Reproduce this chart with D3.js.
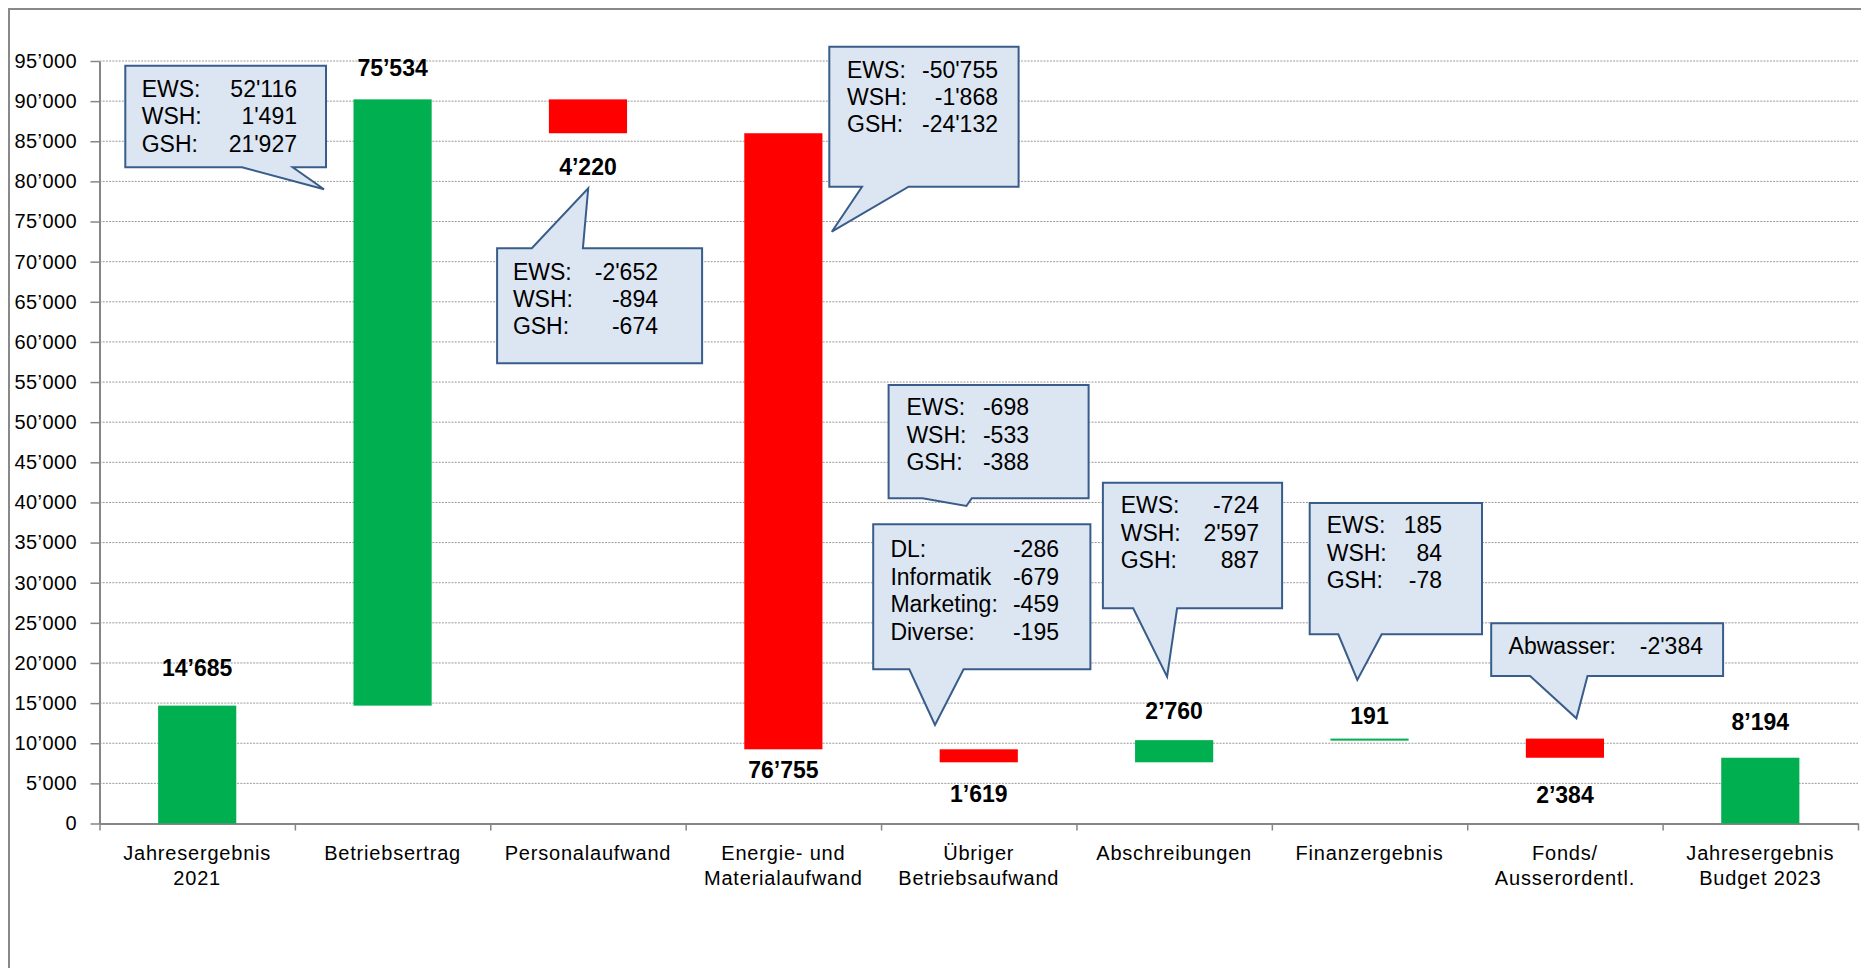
<!DOCTYPE html>
<html>
<head>
<meta charset="utf-8">
<script src="https://cdn.jsdelivr.net/npm/d3@7"></script>
<style>
  body { margin: 0; background: #fff; }
  svg { display: block; font-family: "Liberation Sans", Arial, sans-serif; }
</style>
</head>
<body>
<svg width="1861" height="968"></svg>
<script>
// categories and the lines of their axis labels
const categories = ['J2021', 'Betriebsertrag', 'Personalaufwand', 'Energie', 'Uebriger',
  'Abschreibungen', 'Finanzergebnis', 'Fonds', 'J2023']
const categoryLines = [
  ['Jahresergebnis', '2021'], ['Betriebsertrag'], ['Personalaufwand'],
  ['Energie- und', 'Materialaufwand'], ['Übriger', 'Betriebsaufwand'], ['Abschreibungen'],
  ['Finanzergebnis'], ['Fonds/', 'Ausserordentl.'], ['Jahresergebnis', 'Budget 2023']
]
// change per step (first and last are totals)
const changes = [14685, 75534, -4220, -76755, -1619, 2760, 191, -2384, 8194]
const isTotal = [true, false, false, false, false, false, false, false, true]
const yTickValues = [0, 5000, 10000, 15000, 20000, 25000, 30000, 35000, 40000, 45000,
  50000, 55000, 60000, 65000, 70000, 75000, 80000, 85000, 90000, 95000]

// callout texts
const calloutLines = [
  [['EWS:', "52'116"], ['WSH:', "1'491"], ['GSH:', "21'927"]],
  [['EWS:', "-2'652"], ['WSH:', '-894'], ['GSH:', '-674']],
  [['EWS:', "-50'755"], ['WSH:', "-1'868"], ['GSH:', "-24'132"]],
  [['EWS:', '-698'], ['WSH:', '-533'], ['GSH:', '-388']],
  [['DL:', '-286'], ['Informatik', '-679'], ['Marketing:', '-459'], ['Diverse:', '-195']],
  [['EWS:', '-724'], ['WSH:', "2'597"], ['GSH:', '887']],
  [['EWS:', '185'], ['WSH:', '84'], ['GSH:', '-78']],
  [['Abwasser:', "-2'384"]]
]

// callout placement (pixels)
const calloutLayout = [
  {x0: 125.3, y0: 65.7, x1: 326, y1: 167.3, side: 'bottom', b1: 242, b2: 292.7, tip: [324, 189.3], tx: 141.7, vx: 297, ty: 96.7, lh: 27.5},
  {x0: 497.1, y0: 248.3, x1: 702.1, y1: 363.3, side: 'top', b1: 531.8, b2: 582.9, tip: [588.2, 188.3], tx: 512.9, vx: 658, ty: 280, lh: 27},
  {x0: 829.3, y0: 46.7, x1: 1018.6, y1: 186.7, side: 'bottom', b1: 862, b2: 908.6, tip: [831.8, 231.7], tx: 847, vx: 998, ty: 77.7, lh: 27},
  {x0: 888.6, y0: 385, x1: 1088.6, y1: 498.3, side: 'bottom', b1: 922.5, b2: 971.8, tip: [966.4, 506], tx: 906.4, vx: 1029, ty: 415, lh: 27.5},
  {x0: 873.2, y0: 524.3, x1: 1090.4, y1: 669.3, side: 'bottom', b1: 909.3, b2: 963.6, tip: [935, 725], tx: 890.4, vx: 1059, ty: 556.7, lh: 27.8},
  {x0: 1102.9, y0: 482.7, x1: 1282.1, y1: 608.3, side: 'bottom', b1: 1133.2, b2: 1177.1, tip: [1167.1, 676.7], tx: 1120.7, vx: 1259, ty: 513.3, lh: 27.5},
  {x0: 1309.7, y0: 503, x1: 1482, y1: 634.3, side: 'bottom', b1: 1338.3, b2: 1381.7, tip: [1357.3, 680], tx: 1326.7, vx: 1442, ty: 533.3, lh: 27.5},
  {x0: 1491.2, y0: 623.3, x1: 1723.1, y1: 676, side: 'bottom', b1: 1530.1, b2: 1587.5, tip: [1576.4, 718.3], tx: 1508.6, vx: 1703, ty: 654, lh: 27}
]
// distance of value labels from the bar end
const labelGap = [37.7, 31.8, 34, 21, 32, 29.5, 23, 37, 36]

const svg = d3.select('svg')
const plotLeft = 99.5, plotRight = 1858, plotTop = 61, plotBottom = 823.5

// chart frame (cut at right/bottom like the reference)
svg.append('rect')
  .attr('x', 9).attr('y', 9).attr('width', 1900).attr('height', 1000)
  .attr('fill', 'none').attr('stroke', '#898989').attr('stroke-width', 2)

const x = d3.scaleBand().domain(categories).range([plotLeft, plotRight])
  .paddingInner(0.6).paddingOuter(0.3)
const xEdges = d3.scaleLinear().domain([0, categories.length]).range([plotLeft, plotRight])
const y = d3.scaleLinear().domain([0, 95000]).range([plotBottom, plotTop])

// waterfall steps
let running = 0
const steps = changes.map((v, i) => {
  let start, end
  if (isTotal[i]) { start = 0; end = v; running = v }
  else { start = running; end = running + v; running = end }
  return {cat: categories[i], value: v, start: start, end: end, i: i}
})

// gridlines
svg.append('g').selectAll('line')
  .data(yTickValues.filter(d => d > 0))
  .enter().append('line')
  .attr('x1', plotLeft).attr('x2', plotRight)
  .attr('y1', d => y(d)).attr('y2', d => y(d))
  .attr('stroke', '#9a9a9a').attr('stroke-width', 1)
  .attr('stroke-dasharray', '2,1.2')

// y axis
const yAxis = svg.append('g')
  .attr('transform', 'translate(' + plotLeft + ',0)')
  .call(d3.axisLeft(y).tickValues(yTickValues).tickSize(9).tickSizeOuter(0)
    .tickFormat(d => d3.format(',')(d).replace(/,/g, '’')))
yAxis.select('.domain').attr('stroke', '#868686').attr('stroke-width', 2)
yAxis.selectAll('.tick line').attr('stroke', '#868686').attr('stroke-width', 1.5)
yAxis.selectAll('.tick text')
  .attr('x', -22.5)
  .attr('fill', '#000')
  .style('font-size', '20px')
  .style('letter-spacing', '0.4px')
  .style('font-family', '"Liberation Sans", Arial, sans-serif')

// x axis (ticks at band edges)
const xAxis = svg.append('g')
  .attr('transform', 'translate(0,' + plotBottom + ')')
  .call(d3.axisBottom(xEdges).tickValues(d3.range(categories.length + 1))
    .tickSize(7).tickSizeOuter(0).tickFormat(''))
xAxis.select('.domain').attr('stroke', '#868686').attr('stroke-width', 2)
xAxis.selectAll('.tick line').attr('stroke', '#868686').attr('stroke-width', 1.5)

// category labels
const catLabels = svg.append('g')
  .selectAll('text')
  .data(categoryLines)
  .enter().append('text')
  .attr('text-anchor', 'middle')
  .attr('font-size', 20)
  .style('letter-spacing', '0.8px')
  .attr('fill', '#000')
catLabels.each(function (lines, i) {
  d3.select(this).selectAll('tspan')
    .data(lines)
    .enter().append('tspan')
    .attr('x', x(categories[i]) + x.bandwidth() / 2)
    .attr('y', (d, j) => 860 + j * 25)
    .text(d => d)
})

// bars
svg.append('g').selectAll('rect')
  .data(steps)
  .enter().append('rect')
  .attr('x', d => x(d.cat))
  .attr('width', x.bandwidth())
  .attr('y', d => y(Math.max(d.start, d.end)))
  .attr('height', d => Math.max(2, Math.abs(y(d.start) - y(d.end))))
  .attr('fill', d => d.value >= 0 ? '#00B050' : '#FF0000')

// value labels
svg.append('g').selectAll('text')
  .data(steps)
  .enter().append('text')
  .attr('x', d => x(d.cat) + x.bandwidth() / 2)
  .attr('y', d => d.value >= 0
    ? y(Math.max(d.start, d.end)) - labelGap[d.i] + 8
    : y(Math.min(d.start, d.end)) + labelGap[d.i] + 8)
  .attr('text-anchor', 'middle')
  .attr('font-size', 23)
  .attr('font-weight', 'bold')
  .attr('fill', '#000')
  .text(d => d3.format(',')(Math.abs(d.value)).replace(/,/g, '’'))

// callouts
function calloutPath (c) {
  if (c.side === 'top') {
    return 'M' + c.x0 + ',' + c.y0 + 'H' + c.b1 + 'L' + c.tip[0] + ',' + c.tip[1] +
      'L' + c.b2 + ',' + c.y0 + 'H' + c.x1 + 'V' + c.y1 + 'H' + c.x0 + 'Z'
  }
  return 'M' + c.x0 + ',' + c.y0 + 'H' + c.x1 + 'V' + c.y1 + 'H' + c.b2 +
    'L' + c.tip[0] + ',' + c.tip[1] + 'L' + c.b1 + ',' + c.y1 + 'H' + c.x0 + 'Z'
}

const callouts = svg.append('g').selectAll('g')
  .data(calloutLayout)
  .enter().append('g')

callouts.append('path')
  .attr('d', calloutPath)
  .attr('fill', '#DCE6F2')
  .attr('stroke', '#385D8A')
  .attr('stroke-width', 2)
  .attr('stroke-linejoin', 'miter')

callouts.each(function (c, k) {
  const g = d3.select(this)
  calloutLines[k].forEach((line, j) => {
    g.append('text')
      .attr('x', c.tx).attr('y', c.ty + j * c.lh)
      .attr('font-size', 23).attr('fill', '#000')
      .text(line[0])
    g.append('text')
      .attr('x', c.vx).attr('y', c.ty + j * c.lh)
      .attr('text-anchor', 'end')
      .attr('font-size', 23).attr('fill', '#000')
      .text(line[1])
  })
})
</script>
</body>
</html>
